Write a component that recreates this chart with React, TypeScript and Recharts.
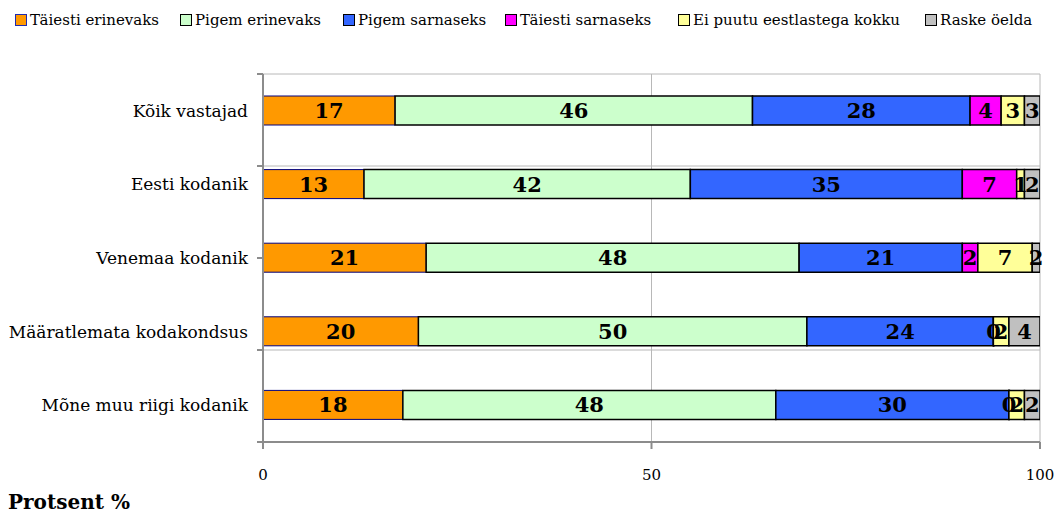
import React from 'react'
import { BarChart, Bar, XAxis, YAxis, CartesianGrid, LabelList } from 'recharts'

const categories = [
  'Kõik vastajad',
  'Eesti kodanik',
  'Venemaa kodanik',
  'Määratlemata kodakondsus',
  'Mõne muu riigi kodanik',
]

// shares in percent
const taiestiErinevaks = [17, 13, 21, 20, 18]
const pigemErinevaks = [46, 42, 48, 50, 48]
const pigemSarnaseks = [28, 35, 21, 24, 30]
const taiestiSarnaseks = [4, 7, 2, 0, 0]
const eiPuutu = [3, 1, 7, 2, 2]
const raskeOelda = [3, 2, 2, 4, 2]

const xTicks = [0, 50, 100]
const bandEdges = [0, 1, 2, 3, 4, 5]

const series = [
  { key: 'te', name: 'Täiesti erinevaks', values: taiestiErinevaks, fill: '#FF9900', stroke: '#000080', sw: 1 },
  { key: 'pe', name: 'Pigem erinevaks', values: pigemErinevaks, fill: '#CCFFCC', stroke: '#000000', sw: 1.5 },
  { key: 'ps', name: 'Pigem sarnaseks', values: pigemSarnaseks, fill: '#3366FF', stroke: '#000000', sw: 1.5 },
  { key: 'ts', name: 'Täiesti sarnaseks', values: taiestiSarnaseks, fill: '#FF00FF', stroke: '#000000', sw: 1.5 },
  { key: 'ep', name: 'Ei puutu eestlastega kokku', values: eiPuutu, fill: '#FFFF99', stroke: '#000000', sw: 1.5 },
  { key: 'ro', name: 'Raske öelda', values: raskeOelda, fill: '#C0C0C0', stroke: '#000000', sw: 1.5 },
]

// legend swatch positions as in the original
const legendX = [15, 180, 343, 505, 678, 925]

const font = '"DejaVu Serif", serif'

const chartData = categories.map((name, i) => {
  const row: Record<string, string | number> = { name }
  series.forEach(s => {
    row[s.key] = s.values[i]
  })
  return row
})

// labels drawn by hand so that zero-width segments still show their "0"
const BarLabel = (props: any) => {
  const { x, y, width, height, value } = props
  return (
    <text
      x={Number(x) + Number(width) / 2}
      y={Number(y) + Number(height) / 2}
      textAnchor="middle"
      dominantBaseline="central"
      fill="#000"
      style={{ fontFamily: font, fontSize: 21, fontWeight: 'bold' }}
    >
      {value}
    </text>
  )
}

function Legend() {
  return (
    <div style={{ position: 'absolute', top: 11, left: 0, fontFamily: font, fontSize: 15, whiteSpace: 'nowrap' }}>
      {series.map((s, i) => (
        <div
          key={s.key}
          style={{ position: 'absolute', left: legendX[i], top: 0, display: 'flex', alignItems: 'center' }}
        >
          <span
            style={{
              display: 'inline-block',
              width: 10,
              height: 10,
              background: s.fill,
              border: `1.5px solid ${s.key === 'te' ? '#1f2bb0' : '#000'}`,
              marginRight: 3,
            }}
          />
          <span>{s.name}</span>
        </div>
      ))}
    </div>
  )
}

export default function App() {
  return (
    <div style={{ position: 'absolute', left: 0, top: 0, width: 1058, height: 516, background: '#fff' }}>
      <Legend />
      <BarChart
        width={1058}
        height={516}
        data={chartData}
        layout="vertical"
        barSize={29}
        margin={{ top: 74, right: 18, bottom: 34, left: 0 }}
      >
        <CartesianGrid stroke="#b8b8b8" strokeWidth={1} horizontal vertical />
        <XAxis
          type="number"
          domain={[0, 100]}
          ticks={xTicks}
          allowDataOverflow
          height={40}
          stroke="#8c8c8c"
          strokeWidth={2}
          tickSize={7}
          tickMargin={20}
          tick={{ fill: '#000', fontFamily: font, fontSize: 15 }}
        />
        {/* numeric axis used only for the band-edge ticks and grid lines */}
        <YAxis
          type="number"
          domain={[0, 5]}
          ticks={bandEdges}
          width={10}
          stroke="#8c8c8c"
          strokeWidth={2}
          tickSize={6}
          tickFormatter={() => ''}
        />
        <YAxis
          yAxisId="cat"
          type="category"
          dataKey="name"
          width={253}
          axisLine={false}
          tickLine={false}
          tickSize={0}
          tickMargin={5}
          tick={{ fill: '#000', fontFamily: font, fontSize: 17 }}
        />
        {series.map(s => (
          <Bar
            key={s.key}
            yAxisId="cat"
            dataKey={s.key}
            name={s.name}
            stackId="a"
            fill={s.fill}
            stroke={s.stroke}
            strokeWidth={s.sw}
            minPointSize={s.key === 'ts' ? 0.5 : 0}
            isAnimationActive={false}
          >
            <LabelList dataKey={s.key} content={BarLabel} />
          </Bar>
        ))}
      </BarChart>
      <div
        style={{
          position: 'absolute',
          left: 8,
          top: 490,
          fontFamily: font,
          fontSize: 20,
          fontWeight: 'bold',
        }}
      >
        Protsent %
      </div>
    </div>
  )
}
